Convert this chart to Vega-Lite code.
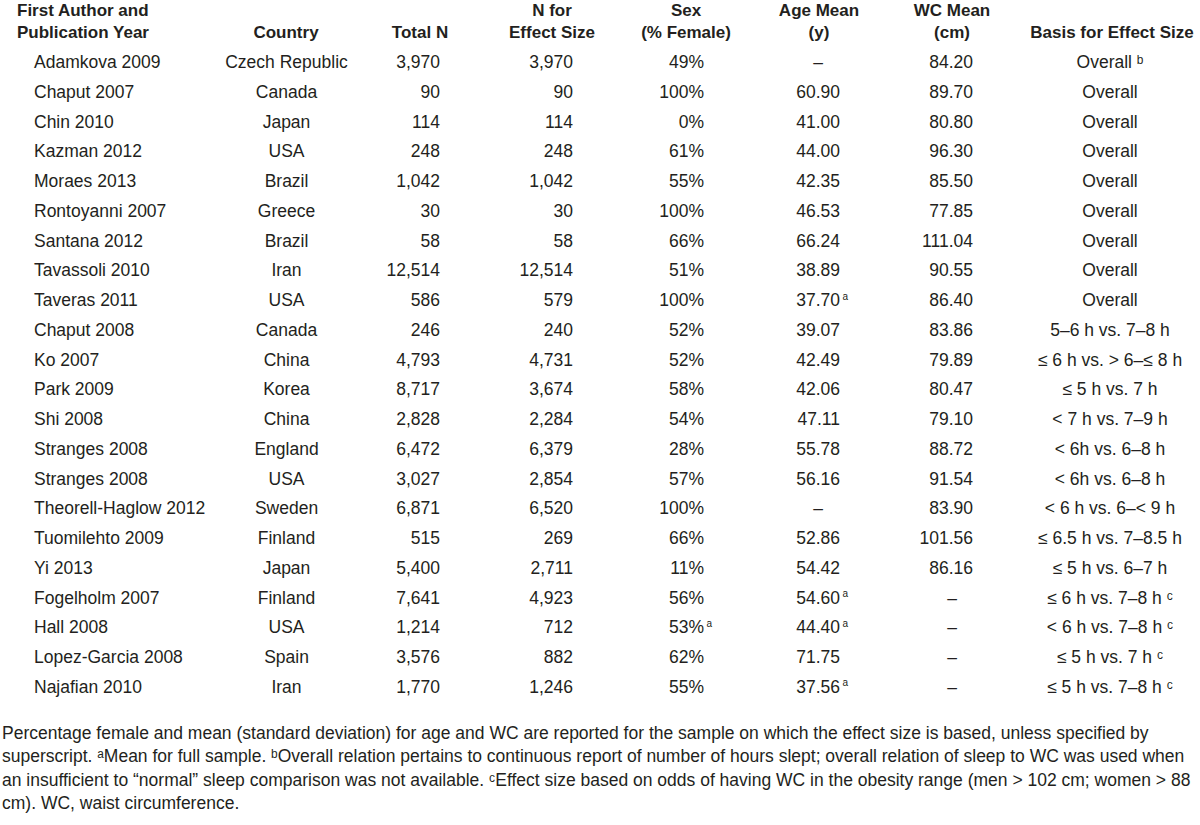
{
  "$schema": "https://vega.github.io/schema/vega-lite/v6.json",
  "width": 1200,
  "height": 825,
  "autosize": {"type": "fit", "contains": "padding"},
  "padding": 0,
  "background": "white",
  "config": {
    "view": {"stroke": null},
    "text": {"font": "Liberation Sans", "fontSize": 17.5, "color": "#231f20", "baseline": "alphabetic"}
  },
  "datasets": {
    "rows": [
      {"i": 1, "author": "Adamkova 2009", "country": "Czech Republic", "total": "3,970", "neff": "3,970", "sex": "49%", "age": "–", "wc": "84.20", "basis": "Overall ᵇ"},
      {"i": 2, "author": "Chaput 2007", "country": "Canada", "total": "90", "neff": "90", "sex": "100%", "age": "60.90", "wc": "89.70", "basis": "Overall"},
      {"i": 3, "author": "Chin 2010", "country": "Japan", "total": "114", "neff": "114", "sex": "0%", "age": "41.00", "wc": "80.80", "basis": "Overall"},
      {"i": 4, "author": "Kazman 2012", "country": "USA", "total": "248", "neff": "248", "sex": "61%", "age": "44.00", "wc": "96.30", "basis": "Overall"},
      {"i": 5, "author": "Moraes 2013", "country": "Brazil", "total": "1,042", "neff": "1,042", "sex": "55%", "age": "42.35", "wc": "85.50", "basis": "Overall"},
      {"i": 6, "author": "Rontoyanni 2007", "country": "Greece", "total": "30", "neff": "30", "sex": "100%", "age": "46.53", "wc": "77.85", "basis": "Overall"},
      {"i": 7, "author": "Santana 2012", "country": "Brazil", "total": "58", "neff": "58", "sex": "66%", "age": "66.24", "wc": "111.04", "basis": "Overall"},
      {"i": 8, "author": "Tavassoli 2010", "country": "Iran", "total": "12,514", "neff": "12,514", "sex": "51%", "age": "38.89", "wc": "90.55", "basis": "Overall"},
      {"i": 9, "author": "Taveras 2011", "country": "USA", "total": "586", "neff": "579", "sex": "100%", "age": "37.70", "ageSup": "a", "wc": "86.40", "basis": "Overall"},
      {"i": 10, "author": "Chaput 2008", "country": "Canada", "total": "246", "neff": "240", "sex": "52%", "age": "39.07", "wc": "83.86", "basis": "5–6 h vs. 7–8 h"},
      {"i": 11, "author": "Ko 2007", "country": "China", "total": "4,793", "neff": "4,731", "sex": "52%", "age": "42.49", "wc": "79.89", "basis": "≤ 6 h vs. > 6–≤ 8 h"},
      {"i": 12, "author": "Park 2009", "country": "Korea", "total": "8,717", "neff": "3,674", "sex": "58%", "age": "42.06", "wc": "80.47", "basis": "≤ 5 h vs. 7 h"},
      {"i": 13, "author": "Shi 2008", "country": "China", "total": "2,828", "neff": "2,284", "sex": "54%", "age": "47.11", "wc": "79.10", "basis": "< 7 h vs. 7–9 h"},
      {"i": 14, "author": "Stranges 2008", "country": "England", "total": "6,472", "neff": "6,379", "sex": "28%", "age": "55.78", "wc": "88.72", "basis": "< 6h vs. 6–8 h"},
      {"i": 15, "author": "Stranges 2008", "country": "USA", "total": "3,027", "neff": "2,854", "sex": "57%", "age": "56.16", "wc": "91.54", "basis": "< 6h vs. 6–8 h"},
      {"i": 16, "author": "Theorell-Haglow 2012", "country": "Sweden", "total": "6,871", "neff": "6,520", "sex": "100%", "age": "–", "wc": "83.90", "basis": "< 6 h vs. 6–< 9 h"},
      {"i": 17, "author": "Tuomilehto 2009", "country": "Finland", "total": "515", "neff": "269", "sex": "66%", "age": "52.86", "wc": "101.56", "basis": "≤ 6.5 h vs. 7–8.5 h"},
      {"i": 18, "author": "Yi 2013", "country": "Japan", "total": "5,400", "neff": "2,711", "sex": "11%", "age": "54.42", "wc": "86.16", "basis": "≤ 5 h vs. 6–7 h"},
      {"i": 19, "author": "Fogelholm 2007", "country": "Finland", "total": "7,641", "neff": "4,923", "sex": "56%", "age": "54.60", "ageSup": "a", "wc": "–", "basis": "≤ 6 h vs. 7–8 h ᶜ"},
      {"i": 20, "author": "Hall 2008", "country": "USA", "total": "1,214", "neff": "712", "sex": "53%", "sexSup": "a", "age": "44.40", "ageSup": "a", "wc": "–", "basis": "< 6 h vs. 7–8 h ᶜ"},
      {"i": 21, "author": "Lopez-Garcia 2008", "country": "Spain", "total": "3,576", "neff": "882", "sex": "62%", "age": "71.75", "wc": "–", "basis": "≤ 5 h vs. 7 h ᶜ"},
      {"i": 22, "author": "Najafian 2010", "country": "Iran", "total": "1,770", "neff": "1,246", "sex": "55%", "age": "37.56", "ageSup": "a", "wc": "–", "basis": "≤ 5 h vs. 7–8 h ᶜ"}
    ],
    "head": [
      {"key": "author", "h": "First Author and\nPublication Year"},
      {"key": "country", "h": "\nCountry"},
      {"key": "total", "h": "\nTotal N"},
      {"key": "neff", "h": "N for\nEffect Size"},
      {"key": "sex", "h": "Sex\n(% Female)"},
      {"key": "age", "h": "Age Mean\n(y)"},
      {"key": "wc", "h": "WC Mean\n(cm)"},
      {"key": "basis", "h": "\nBasis for Effect Size"}
    ],
    "notes": [
      {"t": "Percentage female and mean (standard deviation) for age and WC are reported for the sample on which the effect size is based, unless specified by\nsuperscript. ᵃMean for full sample. ᵇOverall relation pertains to continuous report of number of hours slept; overall relation of sleep to WC was used when\nan insufficient to “normal” sleep comparison was not available. ᶜEffect size based on odds of having WC in the obesity range (men > 102 cm; women > 88\ncm). WC, waist circumference."}
    ]
  },
  "layer": [
    {"data": {"name": "rows"}, "mark": {"type": "text", "align": "left"},
     "encoding": {"x": {"datum": 34, "type": "quantitative", "scale": {"domain": [0, 1200], "nice": false}, "axis": null},
                  "y": {"field": "i", "type": "quantitative", "scale": {"domain": [1, 22], "range": [68, 692.75], "nice": false, "zero": false}, "axis": null},
                  "text": {"field": "author"}}},
    {"data": {"name": "rows"}, "mark": {"type": "text", "align": "center"},
     "encoding": {"x": {"datum": 286.5, "type": "quantitative", "scale": {"domain": [0, 1200], "nice": false}, "axis": null},
                  "y": {"field": "i", "type": "quantitative", "scale": {"domain": [1, 22], "range": [68, 692.75], "nice": false, "zero": false}, "axis": null},
                  "text": {"field": "country"}}},
    {"data": {"name": "rows"}, "mark": {"type": "text", "align": "right"},
     "encoding": {"x": {"datum": 440, "type": "quantitative", "scale": {"domain": [0, 1200], "nice": false}, "axis": null},
                  "y": {"field": "i", "type": "quantitative", "scale": {"domain": [1, 22], "range": [68, 692.75], "nice": false, "zero": false}, "axis": null},
                  "text": {"field": "total"}}},
    {"data": {"name": "rows"}, "mark": {"type": "text", "align": "right"},
     "encoding": {"x": {"datum": 573, "type": "quantitative", "scale": {"domain": [0, 1200], "nice": false}, "axis": null},
                  "y": {"field": "i", "type": "quantitative", "scale": {"domain": [1, 22], "range": [68, 692.75], "nice": false, "zero": false}, "axis": null},
                  "text": {"field": "neff"}}},
    {"data": {"name": "rows"}, "mark": {"type": "text", "align": "right"},
     "encoding": {"x": {"datum": 704, "type": "quantitative", "scale": {"domain": [0, 1200], "nice": false}, "axis": null},
                  "y": {"field": "i", "type": "quantitative", "scale": {"domain": [1, 22], "range": [68, 692.75], "nice": false, "zero": false}, "axis": null},
                  "text": {"field": "sex"}}},
    {"data": {"name": "rows"}, "transform": [{"filter": "isValid(datum.sexSup)"}], "mark": {"type": "text", "align": "left", "fontSize": 10, "dy": -6.5},
     "encoding": {"x": {"datum": 706.5, "type": "quantitative", "scale": {"domain": [0, 1200], "nice": false}, "axis": null},
                  "y": {"field": "i", "type": "quantitative", "scale": {"domain": [1, 22], "range": [68, 692.75], "nice": false, "zero": false}, "axis": null},
                  "text": {"field": "sexSup"}}},
    {"data": {"name": "rows"}, "transform": [{"filter": "datum.age != '–'"}], "mark": {"type": "text", "align": "right"},
     "encoding": {"x": {"datum": 840, "type": "quantitative", "scale": {"domain": [0, 1200], "nice": false}, "axis": null},
                  "y": {"field": "i", "type": "quantitative", "scale": {"domain": [1, 22], "range": [68, 692.75], "nice": false, "zero": false}, "axis": null},
                  "text": {"field": "age"}}},
    {"data": {"name": "rows"}, "transform": [{"filter": "datum.age == '–'"}], "mark": {"type": "text", "align": "center"},
     "encoding": {"x": {"datum": 818, "type": "quantitative", "scale": {"domain": [0, 1200], "nice": false}, "axis": null},
                  "y": {"field": "i", "type": "quantitative", "scale": {"domain": [1, 22], "range": [68, 692.75], "nice": false, "zero": false}, "axis": null},
                  "text": {"field": "age"}}},
    {"data": {"name": "rows"}, "transform": [{"filter": "isValid(datum.ageSup)"}], "mark": {"type": "text", "align": "left", "fontSize": 10, "dy": -6.5},
     "encoding": {"x": {"datum": 842.5, "type": "quantitative", "scale": {"domain": [0, 1200], "nice": false}, "axis": null},
                  "y": {"field": "i", "type": "quantitative", "scale": {"domain": [1, 22], "range": [68, 692.75], "nice": false, "zero": false}, "axis": null},
                  "text": {"field": "ageSup"}}},
    {"data": {"name": "rows"}, "transform": [{"filter": "datum.wc != '–'"}], "mark": {"type": "text", "align": "right"},
     "encoding": {"x": {"datum": 973, "type": "quantitative", "scale": {"domain": [0, 1200], "nice": false}, "axis": null},
                  "y": {"field": "i", "type": "quantitative", "scale": {"domain": [1, 22], "range": [68, 692.75], "nice": false, "zero": false}, "axis": null},
                  "text": {"field": "wc"}}},
    {"data": {"name": "rows"}, "transform": [{"filter": "datum.wc == '–'"}], "mark": {"type": "text", "align": "center"},
     "encoding": {"x": {"datum": 952, "type": "quantitative", "scale": {"domain": [0, 1200], "nice": false}, "axis": null},
                  "y": {"field": "i", "type": "quantitative", "scale": {"domain": [1, 22], "range": [68, 692.75], "nice": false, "zero": false}, "axis": null},
                  "text": {"field": "wc"}}},
    {"data": {"name": "rows"}, "mark": {"type": "text", "align": "center"},
     "encoding": {"x": {"datum": 1110, "type": "quantitative", "scale": {"domain": [0, 1200], "nice": false}, "axis": null},
                  "y": {"field": "i", "type": "quantitative", "scale": {"domain": [1, 22], "range": [68, 692.75], "nice": false, "zero": false}, "axis": null},
                  "text": {"field": "basis"}}},
    {"data": {"name": "head"}, "transform": [{"filter": "datum.key == 'author'"}], "mark": {"type": "text", "align": "left", "fontWeight": "bold", "fontSize": 17, "lineBreak": "\n", "lineHeight": 22},
     "encoding": {"x": {"datum": 17, "type": "quantitative", "scale": {"domain": [0, 1200], "nice": false}, "axis": null},
                  "y": {"datum": -0.758, "type": "quantitative", "scale": {"domain": [1, 22], "range": [68, 692.75], "nice": false, "zero": false}, "axis": null},
                  "text": {"field": "h"}}},
    {"data": {"name": "head"}, "transform": [{"filter": "datum.key == 'country'"}], "mark": {"type": "text", "align": "center", "fontWeight": "bold", "fontSize": 17, "lineBreak": "\n", "lineHeight": 22},
     "encoding": {"x": {"datum": 286, "type": "quantitative", "scale": {"domain": [0, 1200], "nice": false}, "axis": null},
                  "y": {"datum": -0.758, "type": "quantitative", "scale": {"domain": [1, 22], "range": [68, 692.75], "nice": false, "zero": false}, "axis": null},
                  "text": {"field": "h"}}},
    {"data": {"name": "head"}, "transform": [{"filter": "datum.key == 'total'"}], "mark": {"type": "text", "align": "center", "fontWeight": "bold", "fontSize": 17, "lineBreak": "\n", "lineHeight": 22},
     "encoding": {"x": {"datum": 420, "type": "quantitative", "scale": {"domain": [0, 1200], "nice": false}, "axis": null},
                  "y": {"datum": -0.758, "type": "quantitative", "scale": {"domain": [1, 22], "range": [68, 692.75], "nice": false, "zero": false}, "axis": null},
                  "text": {"field": "h"}}},
    {"data": {"name": "head"}, "transform": [{"filter": "datum.key == 'neff'"}], "mark": {"type": "text", "align": "center", "fontWeight": "bold", "fontSize": 17, "lineBreak": "\n", "lineHeight": 22},
     "encoding": {"x": {"datum": 552, "type": "quantitative", "scale": {"domain": [0, 1200], "nice": false}, "axis": null},
                  "y": {"datum": -0.758, "type": "quantitative", "scale": {"domain": [1, 22], "range": [68, 692.75], "nice": false, "zero": false}, "axis": null},
                  "text": {"field": "h"}}},
    {"data": {"name": "head"}, "transform": [{"filter": "datum.key == 'sex'"}], "mark": {"type": "text", "align": "center", "fontWeight": "bold", "fontSize": 17, "lineBreak": "\n", "lineHeight": 22},
     "encoding": {"x": {"datum": 686, "type": "quantitative", "scale": {"domain": [0, 1200], "nice": false}, "axis": null},
                  "y": {"datum": -0.758, "type": "quantitative", "scale": {"domain": [1, 22], "range": [68, 692.75], "nice": false, "zero": false}, "axis": null},
                  "text": {"field": "h"}}},
    {"data": {"name": "head"}, "transform": [{"filter": "datum.key == 'age'"}], "mark": {"type": "text", "align": "center", "fontWeight": "bold", "fontSize": 17, "lineBreak": "\n", "lineHeight": 22},
     "encoding": {"x": {"datum": 819, "type": "quantitative", "scale": {"domain": [0, 1200], "nice": false}, "axis": null},
                  "y": {"datum": -0.758, "type": "quantitative", "scale": {"domain": [1, 22], "range": [68, 692.75], "nice": false, "zero": false}, "axis": null},
                  "text": {"field": "h"}}},
    {"data": {"name": "head"}, "transform": [{"filter": "datum.key == 'wc'"}], "mark": {"type": "text", "align": "center", "fontWeight": "bold", "fontSize": 17, "lineBreak": "\n", "lineHeight": 22},
     "encoding": {"x": {"datum": 952, "type": "quantitative", "scale": {"domain": [0, 1200], "nice": false}, "axis": null},
                  "y": {"datum": -0.758, "type": "quantitative", "scale": {"domain": [1, 22], "range": [68, 692.75], "nice": false, "zero": false}, "axis": null},
                  "text": {"field": "h"}}},
    {"data": {"name": "head"}, "transform": [{"filter": "datum.key == 'basis'"}], "mark": {"type": "text", "align": "center", "fontWeight": "bold", "fontSize": 17, "lineBreak": "\n", "lineHeight": 22},
     "encoding": {"x": {"datum": 1112, "type": "quantitative", "scale": {"domain": [0, 1200], "nice": false}, "axis": null},
                  "y": {"datum": -0.758, "type": "quantitative", "scale": {"domain": [1, 22], "range": [68, 692.75], "nice": false, "zero": false}, "axis": null},
                  "text": {"field": "h"}}},
    {"data": {"name": "notes"}, "mark": {"type": "text", "align": "left", "lineBreak": "\n", "lineHeight": 23.4},
     "encoding": {"x": {"datum": 2, "type": "quantitative", "scale": {"domain": [0, 1200], "nice": false}, "axis": null},
                  "y": {"datum": 23.55, "type": "quantitative", "scale": {"domain": [1, 22], "range": [68, 692.75], "nice": false, "zero": false}, "axis": null},
                  "text": {"field": "t"}}}
  ]
}
